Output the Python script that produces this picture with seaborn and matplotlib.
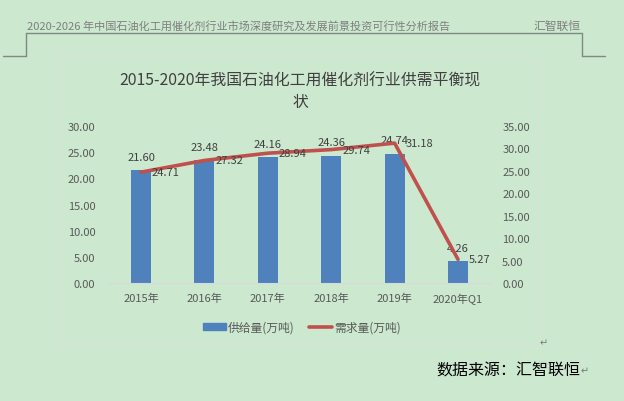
import matplotlib
matplotlib.use("Agg")
import matplotlib.pyplot as plt
import matplotlib.patches as mpatches
from matplotlib.lines import Line2D
import seaborn as sns
import pandas as pd

# data
categories = ['2015年', '2016年', '2017年', '2018年', '2019年', '2020年Q1']
supply = [21.60, 23.48, 24.16, 24.36, 24.74, 4.26]
demand = [24.71, 27.32, 28.94, 29.74, 31.18, 5.27]
left_ticks = [0, 5, 10, 15, 20, 25, 30]
right_ticks = [0, 5, 10, 15, 20, 25, 30, 35]

BG = '#cce8cf'
BLUE = '#4f81bd'
RED = '#c0504d'
GREY = '#595959'

sns.set_theme(style="white", rc={"axes.facecolor": BG, "figure.facecolor": BG})
plt.rcParams['font.family'] = ['Noto Sans CJK SC', 'DejaVu Sans']

W, H = 624, 402
fig = plt.figure(figsize=(W / 100, H / 100), dpi=100)


def fx(x):
    return x / W


def fy(y):
    return 1 - y / H


# page header
fig.text(fx(27), fy(26), '2020-2026 年中国石油化工用催化剂行业市场深度研究及发展前景投资可行性分析报告',
         fontsize=8, color='#7f7f7f', va='center', ha='left')
fig.text(fx(580), fy(26), '汇智联恒', fontsize=8.5, color='#7f7f7f', va='center', ha='right')
hdr = dict(color='#7f8a80', lw=1)
fig.add_artist(Line2D([fx(26), fx(582)], [fy(34), fy(34)], **hdr))
fig.add_artist(Line2D([fx(26), fx(26)], [fy(34), fy(57)], **hdr))
fig.add_artist(Line2D([fx(3), fx(26)], [fy(57), fy(57)], **hdr))
fig.add_artist(Line2D([fx(582), fx(582)], [fy(34), fy(57)], **hdr))
fig.add_artist(Line2D([fx(582), fx(605)], [fy(57), fy(57)], **hdr))

# chart area frame
fig.add_artist(mpatches.Rectangle((fx(59), fy(347)), fx(539) - fx(59), fy(59) - fy(347),
                                  transform=fig.transFigure, facecolor=BG,
                                  edgecolor='#d5e2d6', lw=1.2, zorder=0))

fig.text(fx(300), fy(81), '2015-2020年我国石油化工用催化剂行业供需平衡现',
         fontsize=11.4, color='#404040', ha='center', va='center')
fig.text(fx(300), fy(102), '状', fontsize=11.4, color='#404040', ha='center', va='center')

ax = fig.add_axes([fx(109.3), fy(284), (489.7 - 109.3) / W, 157 / H])
df = pd.DataFrame({'year': categories, 'supply': supply, 'demand': demand})
sns.barplot(data=df, x='year', y='supply', color=BLUE, width=0.315, saturation=1,
            linewidth=0, ax=ax)
ax.set_ylim(0, 30)
ax.set_xlim(-0.5, len(categories) - 0.5)
ax.set_yticks(left_ticks)
ax.set_yticklabels([f'{t:.2f}' for t in left_ticks])
ax.set_xlabel('')
ax.set_ylabel('')
ax.tick_params(axis='both', length=0, labelsize=8, labelcolor=GREY)
ax.tick_params(axis='y', pad=10)
ax.tick_params(axis='x', pad=7)
for s in ['top', 'left', 'right']:
    ax.spines[s].set_visible(False)
ax.spines['bottom'].set_color('#d9d9d9')
ax.spines['bottom'].set_linewidth(0.8)

for i, v in enumerate(supply):
    ax.annotate(f'{v:.2f}', (i, v), xytext=(0, 9.4), textcoords='offset points',
                ha='center', va='center', fontsize=8, color='#404040')

ax2 = ax.twinx()
sns.lineplot(data=df, x='year', y='demand', color=RED, linewidth=2.6, sort=False, ax=ax2)
ax2.set_ylim(0, 35)
ax2.set_yticks(right_ticks)
ax2.set_yticklabels([f'{t:.2f}' for t in right_ticks])
ax2.set_ylabel('')
ax2.tick_params(axis='y', length=0, labelsize=8, labelcolor=GREY, pad=9)
for s in ['top', 'left', 'right', 'bottom']:
    ax2.spines[s].set_visible(False)

for i, v in enumerate(demand):
    ax2.annotate(f'{v:.2f}', (i, v), xytext=(7.9, 0), textcoords='offset points',
                 ha='left', va='center', fontsize=8, color='#404040')

handles = [mpatches.Patch(color=BLUE, label='供给量(万吨)'),
           Line2D([0], [0], color=RED, lw=2.6, label='需求量(万吨)')]
fig.legend(handles=handles, loc='center', bbox_to_anchor=(fx(302), fy(328)), ncol=2,
           frameon=False, fontsize=8.5, labelcolor=GREY, handlelength=1.9, handleheight=0.6,
           handletextpad=0.2, columnspacing=1.2)

fig.text(fx(580), fy(371), '数据来源：汇智联恒', fontsize=11.5, color='black', ha='right', va='center')
fig.text(fx(581), fy(371), '↵', fontsize=7, color='#7a7a7a', ha='left', va='center')
fig.text(fx(540), fy(343), '↵', fontsize=7, color='#7a7a7a', ha='left', va='center')

fig.savefig('out.png', dpi=100, facecolor=BG)
